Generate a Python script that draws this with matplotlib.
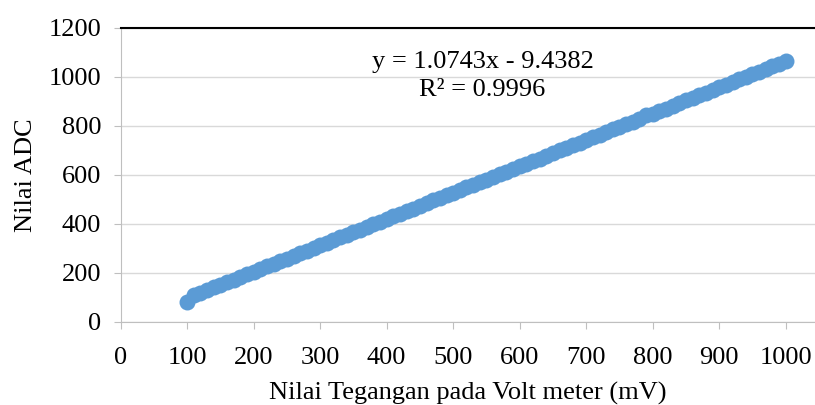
import matplotlib.pyplot as plt

# data (mV vs ADC value)
tegangan = [100, 110, 120, 130, 140, 150, 160, 170, 180, 190,
            200, 210, 220, 230, 240, 250, 260, 270, 280, 290,
            300, 310, 320, 330, 340, 350, 360, 370, 380, 390,
            400, 410, 420, 430, 440, 450, 460, 470, 480, 490,
            500, 510, 520, 530, 540, 550, 560, 570, 580, 590,
            600, 610, 620, 630, 640, 650, 660, 670, 680, 690,
            700, 710, 720, 730, 740, 750, 760, 770, 780, 790,
            800, 810, 820, 830, 840, 850, 860, 870, 880, 890,
            900, 910, 920, 930, 940, 950, 960, 970, 980, 990, 1000]
adc = [80, 110, 120, 130, 141, 151, 162, 173, 184, 195,
       205, 216, 227, 238, 248, 259, 270, 281, 291, 302,
       313, 324, 334, 345, 357, 368, 377, 388, 399, 410,
       420, 431, 442, 453, 463, 474, 485, 496, 506, 517,
       528, 538, 549, 560, 571, 581, 592, 603, 614, 624,
       635, 646, 657, 667, 678, 689, 700, 710, 721, 732,
       743, 753, 764, 775, 786, 796, 807, 818, 829, 845,
       850, 861, 871, 882, 893, 904, 914, 925, 936, 947,
       957, 968, 979, 990, 1000, 1011, 1022, 1033, 1043, 1054, 1065]

x_ticks = [0, 100, 200, 300, 400, 500, 600, 700, 800, 900, 1000]
y_ticks = [0, 200, 400, 600, 800, 1000, 1200]

plt.rcParams['font.family'] = ['Liberation Serif', 'DejaVu Serif']

fig = plt.figure(figsize=(8.15, 4.05), dpi=100)
ax = fig.add_axes([0.148, 0.205, 0.852, 0.726])

ax.plot(tegangan, adc, 'o', color='#5B9BD5', markersize=11.5, markeredgewidth=0, zorder=3)

ax.set_xlim(0, 1044)
ax.set_ylim(0, 1200)
ax.set_xticks(x_ticks)
ax.set_yticks(y_ticks)
ax.grid(axis='y', color='#D9D9D9', linewidth=1)
ax.set_axisbelow(True)

ax.spines['right'].set_visible(False)
ax.spines['top'].set_color('black')
ax.spines['top'].set_linewidth(1.5)
ax.spines['left'].set_color('#BFBFBF')
ax.spines['bottom'].set_color('#BFBFBF')
ax.tick_params(axis='both', colors='#BFBFBF', length=5, labelcolor='black', labelsize=19)
ax.tick_params(axis='x', pad=13)
ax.tick_params(axis='y', pad=9)

ax.set_xlabel('Nilai Tegangan pada Volt meter (mV)', fontsize=19, labelpad=9)
ax.set_ylabel('Nilai ADC', fontsize=19, labelpad=8)

ax.text(544, 1061, 'y = 1.0743x - 9.4382', ha='center', va='center', fontsize=19)
ax.text(544, 947, 'R² = 0.9996', ha='center', va='center', fontsize=19)

fig.savefig('out.png', dpi=100)
